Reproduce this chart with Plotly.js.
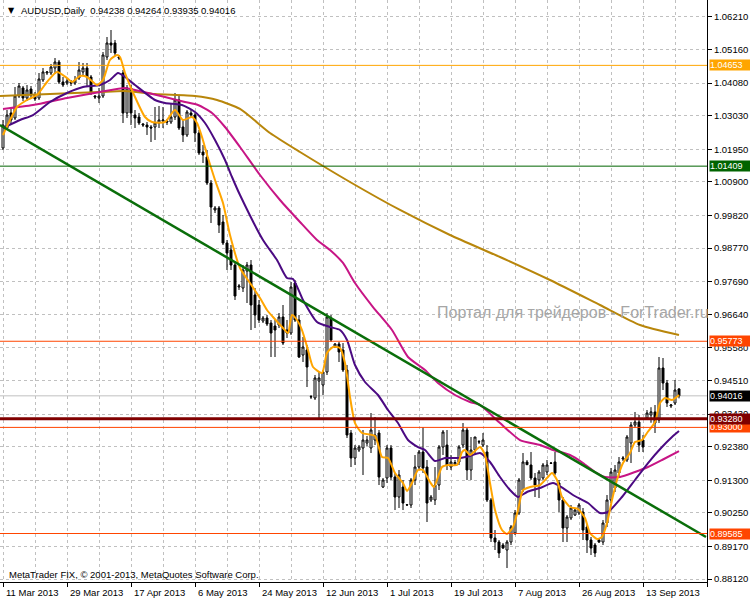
<!DOCTYPE html>
<html><head><meta charset="utf-8">
<script src="https://cdn.plot.ly/plotly-3.0.1.min.js"></script>
<style>html,body{margin:0;padding:0;background:#fff;}#chart{width:750px;height:600px;}</style>
</head><body><div id="chart"></div>
<script>
const barOpen = [
1.01993,1.02637,1.03120,1.02959,1.03667,1.03925,1.03603,1.03892,1.03699,1.03603,
1.04182,1.04407,1.04407,1.04568,1.04761,1.04118,1.04085,1.04118,1.04085,1.04246,
1.04440,1.04568,1.04279,1.03667,1.03603,1.03667,1.04922,1.05373,1.05373,1.04922,
1.04407,1.03120,1.03925,1.03055,1.02991,1.02766,1.02733,1.02669,1.02669,1.02798,
1.02862,1.02862,1.02830,1.02991,1.03538,1.02669,1.02412,1.03120,1.03055,1.02476,
1.01864,1.01703,1.00867,0.99998,1.00062,0.99611,0.98935,0.98710,0.98227,0.97519,
0.97487,0.98034,0.98227,0.97262,0.96940,0.96425,0.96521,0.96360,0.96264,0.96296,
0.96553,0.96135,0.96038,0.97648,0.96457,0.95330,0.95491,0.93978,0.93946,0.94493,
0.94365,0.94783,0.96521,0.95588,0.95684,0.95491,0.94847,0.92820,0.92015,0.92272,
0.92337,0.92498,0.92337,0.92594,0.92820,0.91081,0.91371,0.92337,0.91403,0.90760,
0.91081,0.90502,0.90502,0.91307,0.91725,0.92208,0.91725,0.90663,0.90663,0.91146,
0.92369,0.92433,0.91725,0.91822,0.91886,0.92433,0.92916,0.91629,0.92272,0.92530,
0.92433,0.92208,0.90663,0.89440,0.89311,0.89215,0.89054,0.89311,0.89601,0.90245,
0.90985,0.91886,0.91790,0.91371,0.91307,0.91371,0.91564,0.91854,0.91886,0.91210,
0.90663,0.89762,0.90084,0.90180,0.90245,0.90277,0.89794,0.89376,0.89215,0.89376,
0.89311,0.89923,0.90663,0.91049,0.91532,0.91983,0.91951,0.92498,0.93077,0.93174,
0.92594,0.93303,0.93400,0.93496,0.93238,0.94912,0.94429,0.93689,0.93785,0.94238];
const barHigh = [
1.02894,1.03216,1.03281,1.03957,1.04085,1.03989,1.04021,1.03989,1.03796,1.04407,
1.04568,1.04472,1.04697,1.04890,1.04826,1.04279,1.04246,1.04182,1.04311,1.04761,
1.04729,1.04729,1.04343,1.03699,1.03925,1.05083,1.05566,1.05791,1.05470,1.04987,
1.04504,1.04021,1.04021,1.03216,1.03120,1.02798,1.02830,1.02733,1.03313,1.03345,
1.03313,1.02927,1.03442,1.03764,1.03699,1.02894,1.03216,1.03216,1.03120,1.02573,
1.02090,1.01929,1.00963,1.00126,1.00126,0.99837,0.99032,0.98871,0.98324,0.97616,
0.98227,0.98324,0.98388,0.97487,0.97101,0.96586,0.96618,0.96457,0.96457,0.96682,
0.96940,0.96457,0.97680,0.97744,0.96618,0.95910,0.95652,0.94043,0.94687,0.94783,
0.94847,0.96682,0.96618,0.95716,0.95749,0.95716,0.95008,0.92916,0.92433,0.92433,
0.92916,0.92723,0.93463,0.93335,0.92916,0.91371,0.92433,0.92433,0.91532,0.91629,
0.91307,0.90534,0.91371,0.92111,0.92272,0.93013,0.91951,0.90824,0.91725,0.92433,
0.92916,0.92916,0.92111,0.91951,0.92433,0.93141,0.92981,0.92691,0.92691,0.92594,
0.92820,0.92433,0.90727,0.89697,0.89376,0.89279,0.89376,0.89858,0.90341,0.91371,
0.92176,0.91951,0.92208,0.91532,0.91629,0.91854,0.91951,0.91886,0.92208,0.91307,
0.90760,0.90180,0.90502,0.90373,0.90566,0.90406,0.89891,0.89472,0.89279,0.89440,
0.90019,0.90824,0.91693,0.91790,0.92047,0.92079,0.92755,0.93174,0.93496,0.93399,
0.92755,0.93560,0.93650,0.93721,0.95266,0.95234,0.94526,0.93753,0.94526,0.94264];
const barLow = [
1.01929,1.02573,1.02733,1.02894,1.03603,1.03506,1.03506,1.03603,1.03506,1.03538,
1.04118,1.04343,1.04343,1.04375,1.04053,1.03957,1.04021,1.03989,1.04021,1.04182,
1.04343,1.03957,1.03699,1.03570,1.03442,1.03603,1.04826,1.05051,1.04955,1.04826,
1.02798,1.02959,1.02733,1.02637,1.02733,1.02669,1.02412,1.02186,1.02251,1.02637,
1.02637,1.02733,1.02766,1.02894,1.02573,1.02186,1.02347,1.02991,1.02186,1.01768,
1.01510,1.00802,0.99579,0.99901,0.99257,0.98871,0.98066,0.98066,0.97101,0.97423,
0.97358,0.97004,0.96135,0.96199,0.96360,0.96360,0.96264,0.95266,0.95266,0.96199,
0.95652,0.95877,0.95974,0.96393,0.95234,0.95105,0.94300,0.93914,0.93882,0.93238,
0.94043,0.94687,0.95749,0.95556,0.95105,0.94783,0.92659,0.91725,0.91790,0.92208,
0.91468,0.92401,0.92176,0.92433,0.91146,0.91049,0.91210,0.91307,0.90341,0.90406,
0.90341,0.90470,0.90406,0.91146,0.91629,0.91532,0.89955,0.90599,0.90502,0.90985,
0.92111,0.91629,0.91629,0.91757,0.91790,0.92337,0.91307,0.91307,0.92111,0.92466,
0.92369,0.90599,0.89311,0.89054,0.88796,0.89086,0.88474,0.89215,0.89536,0.90180,
0.90921,0.91790,0.91307,0.90760,0.90727,0.91307,0.91468,0.91822,0.91468,0.90277,
0.89311,0.89311,0.90019,0.90148,0.90180,0.89376,0.88957,0.88893,0.88828,0.89279,
0.89215,0.89794,0.90566,0.90921,0.91436,0.91918,0.91886,0.91854,0.92981,0.92208,
0.92208,0.93303,0.93150,0.92820,0.93141,0.94204,0.93657,0.93624,0.93721,0.93935];
const barClose = [
1.02733,1.03055,1.02894,1.03667,1.03989,1.03603,1.03860,1.03699,1.03570,1.04214,
1.04440,1.04440,1.04600,1.04761,1.04118,1.04021,1.04150,1.04085,1.04182,1.04504,
1.04568,1.04279,1.03764,1.03635,1.03667,1.04987,1.05373,1.05309,1.05051,1.04890,
1.03120,1.03925,1.03120,1.02959,1.02798,1.02733,1.02669,1.02637,1.02798,1.02894,
1.02894,1.02830,1.02991,1.03538,1.02637,1.02412,1.03152,1.03055,1.02476,1.01832,
1.01768,1.00867,1.00094,1.00062,0.99515,0.98935,0.98613,0.98227,0.97229,0.97551,
0.98066,0.98227,0.96940,0.96618,0.96457,0.96521,0.96328,0.96038,0.96135,0.96553,
0.95716,0.96038,0.97519,0.96457,0.95266,0.95588,0.94944,0.93990,0.94590,0.94590,
0.94783,0.96553,0.95813,0.95684,0.95427,0.94847,0.92755,0.92015,0.92337,0.92369,
0.92594,0.92594,0.92916,0.92755,0.91403,0.91307,0.92337,0.91403,0.90760,0.91468,
0.90566,0.90510,0.91307,0.91725,0.92208,0.91693,0.90566,0.90760,0.91146,0.92369,
0.92852,0.91790,0.91886,0.91870,0.92369,0.92916,0.91629,0.92272,0.92691,0.92540,
0.92594,0.90663,0.89440,0.89311,0.88957,0.89118,0.89311,0.89794,0.90245,0.91307,
0.91886,0.91800,0.91371,0.91146,0.91564,0.91790,0.91790,0.91845,0.91532,0.90663,
0.89762,0.90116,0.90406,0.90341,0.90502,0.89697,0.89376,0.89118,0.88957,0.89311,
0.89923,0.90663,0.91564,0.91629,0.91886,0.92015,0.92691,0.93077,0.93174,0.92433,
0.92369,0.93463,0.93500,0.93141,0.94912,0.94429,0.93785,0.93721,0.94204,0.94016];

// moving averages: bar position and value
const maFastIdx = [0,1.75,3.5,6,8.5,11,13.5,16,17.25,19.25,21,23.5,25,26.75,28.5,29.25,30.5,33,35.5,37.25,40.5,43,45,47.25,48.5,49.75,51.25,53,55,56.75,59.25,61.75,64.25,66,67.5,70,71.25,72.25,73.5,74.75,76.25,77.5,79.75,81,82.5,84.25,85.5,86.75,88,89.75,93,94.75,96.25,98,100,101,102.25,103.75,105,106.75,107.75,109.75,111.25,113.5,114.75,115.5,116.75,119.25,120.5,121.75,123,124.75,126,127.5,128.75,130,131.75,134.25,136,137.25,138.5,139.75,141.75,143.75,145.5,146.75,148.5,149.75,151,152.25,153.5,155,156.75,158,159.75,161,163,164.25,165.5,167.25,169];
const maFastVal = [1.02412,1.02894,1.03313,1.03538,1.03699,1.04118,1.04440,1.04246,1.04118,1.04311,1.04279,1.04021,1.04182,1.04826,1.04987,1.04922,1.04407,1.03635,1.02991,1.02830,1.02830,1.03216,1.02894,1.02991,1.02798,1.02347,1.01671,1.00963,1.00223,0.99193,0.98131,0.97648,0.97165,0.96779,0.96553,0.96199,0.96038,0.96618,0.96457,0.96135,0.95491,0.94944,0.94751,0.95395,0.95588,0.95556,0.95073,0.93978,0.93141,0.92820,0.92723,0.92047,0.92015,0.91532,0.91210,0.90953,0.91210,0.91629,0.91629,0.91242,0.91081,0.91725,0.91790,0.91790,0.92208,0.92272,0.92111,0.92369,0.92111,0.91210,0.90341,0.89697,0.89569,0.89794,0.90341,0.90985,0.91081,0.91146,0.91371,0.91532,0.91307,0.90760,0.90438,0.90373,0.90084,0.89601,0.89408,0.89472,0.89923,0.90663,0.91307,0.91854,0.92176,0.92530,0.92594,0.92820,0.93174,0.93785,0.93946,0.93882,0.94043];
const maMidIdx = [0,4.25,7.5,11.75,16,20,24.25,26.75,28.75,30.5,33,38,40.5,44.75,48,50.5,53,55.5,57.25,59.25,65,68.5,71,72.5,75,78.5,81.75,84.25,86,88,90.5,93.75,96.25,98.75,101.25,103.75,105.5,108,110.5,114.25,116.75,119.25,121.75,124.25,126.75,128.75,131,134.25,137.5,140,142.5,146.25,149.25,151.25,154.75,158,161.25,164.75,167.25,169];
const maMidVal = [1.02637,1.02894,1.03055,1.03474,1.03764,1.03957,1.04021,1.04182,1.04407,1.04279,1.04021,1.03538,1.03442,1.03377,1.03152,1.02798,1.02251,1.01607,1.01060,1.00480,0.99032,0.98388,0.97809,0.97777,0.97101,0.96393,0.96232,0.96135,0.95813,0.95008,0.94461,0.94043,0.93560,0.93141,0.92594,0.92369,0.92272,0.91918,0.92015,0.92015,0.92079,0.92176,0.91886,0.91403,0.90985,0.90760,0.90921,0.91049,0.91210,0.91049,0.90824,0.90566,0.90245,0.90277,0.90760,0.91307,0.91854,0.92369,0.92691,0.92884];
const maSlowIdx = [0,7.5,16,24.25,30.5,33,40.5,45.5,48.75,52.25,55.5,59.25,64.25,69.25,74.25,78.5,81.75,85,88,92.5,97.25,101.25,105.5,108.75,113,116.75,119.25,124.25,129.25,134.25,137.5,141.75,145,148,150.5,154.25,158,161.25,164.75,169];
const maSlowVal = [1.03249,1.03377,1.03603,1.03796,1.03925,1.03860,1.03635,1.03474,1.03377,1.03120,1.02669,1.02025,1.01124,1.00319,0.99611,0.99032,0.98710,0.98292,0.97648,0.96875,0.96135,0.95266,0.94847,0.94429,0.94043,0.93817,0.93721,0.93141,0.92594,0.92433,0.92272,0.92111,0.91854,0.91564,0.91403,0.91403,0.91564,0.91725,0.91951,0.92240];
const maLongIdx = [-0.75,11.75,24.25,30.5,38,48,53.5,59.25,66.75,74.25,86.75,99.25,111.75,124.25,136.75,149.25,159.25,169];
const maLongVal = [1.03667,1.03731,1.03796,1.03828,1.03731,1.03667,1.03538,1.03249,1.02476,1.01864,1.00899,0.99998,0.99193,0.98485,0.97744,0.96940,0.96296,0.95974];

const trendIdx = [-0.75, 175.75];
const trendVal = [1.02733, 0.89472];

const levelVals = [1.04653, 1.01409, 0.95773, 0.94016, 0.93000, 0.93280, 0.89585];

const dateTickIdx = [0,16,32,48,64,80,96,112,128,144,160];
const dateTickLabels = ['11 Mar 2013','29 Mar 2013','17 Apr 2013','6 May 2013','24 May 2013','12 Jun 2013','1 Jul 2013','19 Jul 2013','7 Aug 2013','26 Aug 2013','13 Sep 2013'];
const priceTicks = [1.0621,1.0516,1.0408,1.0303,1.0195,1.0090,0.9982,0.9877,0.9769,0.9664,0.9558,0.9451,0.9343,0.9238,0.9130,0.9025,0.8917,0.8812];

const titleText = 'AUDUSD,Daily  0.94238 0.94264 0.93935 0.94016';
const copyrightText = 'MetaTrader FIX, © 2001-2013, MetaQuotes Software Corp.';
const watermarkText = 'Портал для трейдеров - ForTrader.ru';

// styles
const levelStyle = [
  {color:'#FFA500', width:1, box:'#FFA500'},
  {color:'#006400', width:1, box:'#006400'},
  {color:'#FF4500', width:1, box:'#FF4500'},
  {color:'#C0C0C0', width:1, box:'#000000'},
  {color:'#FF4500', width:1, box:'#FF4500'},
  {color:'#800000', width:3, box:'#800000'},
  {color:'#FF4500', width:1, box:'#FF4500'}
];
const FONT = 'Liberation Sans, Arial, sans-serif';
const FS = 9.5;

const barIdx = barOpen.map((_, i) => i);

const traces = [
  {type:'candlestick', x:barIdx, open:barOpen, high:barHigh, low:barLow, close:barClose,
   increasing:{line:{color:'#000000', width:1}, fillcolor:'#FFFFFF'},
   decreasing:{line:{color:'#000000', width:1}, fillcolor:'#000000'},
   whiskerwidth:0, hoverinfo:'skip', showlegend:false},
  {type:'scatter', mode:'lines', x:maLongIdx, y:maLongVal, line:{color:'#B8860B', width:2, shape:'spline', smoothing:0.6}, hoverinfo:'skip'},
  {type:'scatter', mode:'lines', x:maSlowIdx, y:maSlowVal, line:{color:'#C71585', width:2, shape:'spline', smoothing:0.6}, hoverinfo:'skip'},
  {type:'scatter', mode:'lines', x:maMidIdx, y:maMidVal, line:{color:'#4B0A82', width:2, shape:'spline', smoothing:0.6}, hoverinfo:'skip'},
  {type:'scatter', mode:'lines', x:maFastIdx, y:maFastVal, line:{color:'#FFA500', width:2, shape:'spline', smoothing:0.6}, hoverinfo:'skip'},
  {type:'scatter', mode:'lines', x:trendIdx, y:trendVal, line:{color:'#0A6E0A', width:2.5}, hoverinfo:'skip', cliponaxis:true}
];

const shapes = levelVals.map((v, k) => ({
  type:'line', xref:'paper', x0:0, x1:1, yref:'y', y0:v, y1:v,
  line:{color:levelStyle[k].color, width:levelStyle[k].width},
  layer: k === 3 ? 'below' : 'above'
}));

const annotations = [];
annotations.push({xref:'paper', yref:'paper', x:6/707, y:1, yshift:-4, xanchor:'left', yanchor:'top',
  text:'▼', showarrow:false, font:{family:'DejaVu Sans, sans-serif', size:8, color:'#000'}});
annotations.push({xref:'paper', yref:'paper', x:19/707, y:1, yshift:-3, xanchor:'left', yanchor:'top',
  text:titleText, showarrow:false, font:{family:FONT, size:FS, color:'#000'}});
annotations.push({xref:'paper', yref:'paper', x:7/707, y:8/582, xanchor:'left', yanchor:'middle',
  text:copyrightText, showarrow:false, font:{family:FONT, size:FS, color:'#000'}});
annotations.push({xref:'paper', yref:'paper', x:435/707, y:270/582, xanchor:'left', yanchor:'middle',
  text:watermarkText, showarrow:false, font:{family:FONT, size:16, color:'#A6A6A6'}});
dateTickIdx.forEach((ix, k) => {
  annotations.push({xref:'x', yref:'paper', x:ix, y:0, xanchor:'left', yanchor:'top', yshift:-3, xshift:1,
    text:dateTickLabels[k], showarrow:false, font:{family:FONT, size:FS, color:'#000'}});
});
levelVals.forEach((v, k) => {
  annotations.push({xref:'paper', yref:'y', x:709/707, y:v, xanchor:'left', yanchor:'middle',
    text:v.toFixed(5), showarrow:false, bgcolor:levelStyle[k].box, borderpad:0, width:40, height:10, align:'left',
    font:{family:FONT, size:9, color:'#FFFFFF'}});
});

const gridCol = '#C0C0C0';
const layout = {
  width:750, height:600,
  margin:{l:0, r:43, t:0, b:18, pad:0},
  paper_bgcolor:'#FFFFFF', plot_bgcolor:'#FFFFFF',
  showlegend:false,
  xaxis:{range:[-0.75, 176], tickmode:'linear', tick0:0, dtick:16, ticks:'outside', ticklen:4, tickcolor:'#000',
    showticklabels:false, showgrid:true, gridcolor:gridCol, griddash:'3px,3px', gridwidth:1,
    minor:{tick0:0, dtick:8, showgrid:true, gridcolor:gridCol, griddash:'3px,3px', gridwidth:1, ticks:''},
    showline:true, linecolor:'#000', linewidth:1, mirror:true, zeroline:false,
    rangeslider:{visible:false}, fixedrange:true},
  yaxis:{side:'right', range:[0.88024, 1.06757], tickmode:'array', tickvals:priceTicks,
    ticktext:priceTicks.map(v => v.toFixed(5)), ticks:'outside', ticklen:4, tickcolor:'#000',
    tickfont:{family:FONT, size:FS, color:'#000'},
    showgrid:true, gridcolor:gridCol, griddash:'3px,3px', gridwidth:1,
    showline:true, linecolor:'#000', linewidth:1, mirror:true, zeroline:false, fixedrange:true},
  shapes:shapes,
  annotations:annotations
};

Plotly.newPlot('chart', traces, layout, {staticPlot:true, displayModeBar:false});
</script>
</body></html>
